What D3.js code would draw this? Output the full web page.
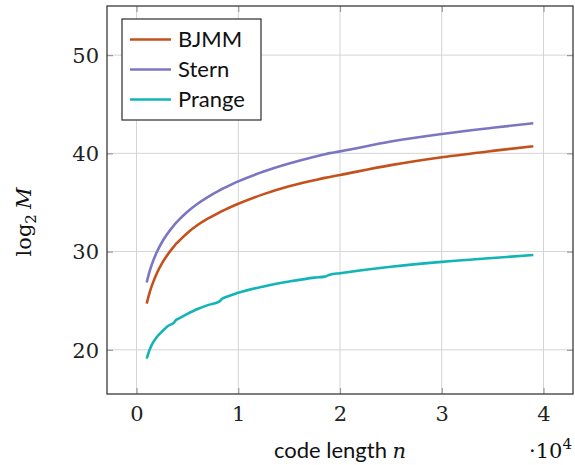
<!DOCTYPE html>
<html>
<head>
<meta charset="utf-8">
<script src="https://cdn.jsdelivr.net/npm/d3@7"></script>
<style>
  body { margin: 0; background: #fff; }
  svg { display: block; }
</style>
</head>
<body>
<svg id="chart" width="575" height="465"></svg>
<script>
// code length n
const codeLength = [1000, 1250, 1500, 2000, 2500, 3000, 3700, 3900, 4000, 5000, 6000, 7000,
  8200, 8400, 8500, 10000, 12500, 15000, 17500, 18500, 19000, 20000, 25000, 30000, 35000, 39000];

// log2 of the work factor
const bjmm = [24.7, 25.7, 26.5, 27.8, 28.8, 29.6, 30.55, 30.8, 30.9, 31.9, 32.7, 33.35,
  34.01, 34.12, 34.17, 34.87, 35.85, 36.65, 37.27, 37.5, 37.6, 37.8, 38.8, 39.6, 40.25, 40.72];
const stern = [26.85, 27.85, 28.67, 29.95, 30.95, 31.76, 32.7, 32.94, 33.05, 34.05, 34.87, 35.55,
  36.26, 36.37, 36.42, 37.15, 38.15, 38.96, 39.65, 39.9, 40.02, 40.2, 41.2, 41.97, 42.6, 43.07];
const prange = [19.1, 19.9, 20.5, 21.3, 21.85, 22.35, 22.8, 23.05, 23.1, 23.65, 24.15, 24.55,
  24.95, 25.2, 25.25, 25.8, 26.45, 26.95, 27.35, 27.45, 27.65, 27.8, 28.45, 28.95, 29.35, 29.65];

const seriesNames = ['BJMM', 'Stern', 'Prange'];
const seriesColors = ['#c4501c', '#7b76c2', '#12b4b6'];
const xTicks = [0, 10000, 20000, 30000, 40000];
const yTicks = [20, 30, 40, 50];

const svg = d3.select('#chart');
const box = { left: 107, right: 573, top: 6, bottom: 394 };

const x = d3.scaleLinear().domain([-2900, 42900]).range([box.left, box.right]);
const y = d3.scaleLinear().domain([15.5, 55]).range([box.bottom, box.top]);

const serif = 'DejaVu Serif, serif';
const sans = 'Lato, sans-serif';

// grid
const grid = svg.append('g').attr('class', 'grid');
grid.selectAll('.gx').data(xTicks).enter().append('line')
  .attr('x1', d => x(d)).attr('x2', d => x(d))
  .attr('y1', box.top).attr('y2', box.bottom)
  .attr('stroke', '#d4d4d4').attr('stroke-width', 1);
grid.selectAll('.gy').data(yTicks).enter().append('line')
  .attr('y1', d => y(d)).attr('y2', d => y(d))
  .attr('x1', box.left).attr('x2', box.right)
  .attr('stroke', '#d4d4d4').attr('stroke-width', 1);

// axes: ticks drawn inward on all four sides
const tickColor = '#9a9a9a';
const bottomAxis = svg.append('g')
  .attr('transform', `translate(0,${box.bottom})`)
  .call(d3.axisBottom(x).tickValues(xTicks).tickSize(-6).tickFormat(d => d / 10000));
const topAxis = svg.append('g')
  .attr('transform', `translate(0,${box.top})`)
  .call(d3.axisTop(x).tickValues(xTicks).tickSize(-6).tickFormat(''));
const leftAxis = svg.append('g')
  .attr('transform', `translate(${box.left},0)`)
  .call(d3.axisLeft(y).tickValues(yTicks).tickSize(-6));
const rightAxis = svg.append('g')
  .attr('transform', `translate(${box.right},0)`)
  .call(d3.axisRight(y).tickValues(yTicks).tickSize(-6).tickFormat(''));

[bottomAxis, topAxis, leftAxis, rightAxis].forEach(a => {
  a.select('.domain').remove();
  a.selectAll('.tick line').attr('stroke', tickColor).attr('stroke-width', 1.2);
});
bottomAxis.selectAll('.tick text')
  .attr('font-family', serif).attr('font-size', 21).attr('fill', '#222')
  .attr('dy', null).attr('y', 27);
leftAxis.selectAll('.tick text')
  .attr('font-family', serif).attr('font-size', 21).attr('fill', '#222')
  .attr('x', -8).attr('dy', '0.35em');

// series
const line = d3.line()
  .curve(d3.curveMonotoneX)
  .x((d, i) => x(codeLength[i]))
  .y(d => y(d));

[bjmm, stern, prange].forEach((values, k) => {
  svg.append('path')
    .datum(values)
    .attr('fill', 'none')
    .attr('stroke', seriesColors[k])
    .attr('stroke-width', 2.6)
    .attr('stroke-linejoin', 'round')
    .attr('d', line);
});

// frame
svg.append('rect')
  .attr('x', box.left).attr('y', box.top)
  .attr('width', box.right - box.left).attr('height', box.bottom - box.top)
  .attr('fill', 'none').attr('stroke', '#3a3a3a').attr('stroke-width', 1.3);

// legend
const legend = svg.append('g').attr('transform', 'translate(122,19)');
legend.append('rect')
  .attr('width', 139).attr('height', 101)
  .attr('fill', '#fff').attr('stroke', '#2a2a2a').attr('stroke-width', 1.2);
const item = legend.selectAll('.item').data(seriesNames).enter().append('g')
  .attr('transform', (d, i) => `translate(0,${20.5 + i * 30})`);
item.append('line')
  .attr('x1', 8).attr('x2', 49)
  .attr('stroke', (d, i) => seriesColors[i]).attr('stroke-width', 2.6);
item.append('text')
  .attr('x', 56).attr('dy', '0.36em')
  .attr('font-family', sans).attr('font-size', 22).attr('fill', '#111')
  .text(d => d);

// axis labels
const xl = svg.append('text')
  .attr('x', 340).attr('y', 458)
  .attr('text-anchor', 'middle').attr('fill', '#111');
xl.append('tspan').attr('font-family', sans).attr('font-size', 22).text('code length ');
xl.append('tspan').attr('font-family', serif).attr('font-style', 'italic').attr('font-size', 21).text('n');

const mult = svg.append('text')
  .attr('x', 572).attr('y', 458)
  .attr('text-anchor', 'end').attr('font-family', serif).attr('font-size', 21).attr('fill', '#111');
mult.append('tspan').text('·10');
mult.append('tspan').attr('font-size', 15).attr('dy', -9).text('4');

const yl = svg.append('text')
  .attr('transform', 'translate(31,222) rotate(-90)')
  .attr('text-anchor', 'middle').attr('font-family', serif).attr('font-size', 21).attr('fill', '#111');
yl.append('tspan').text('log');
yl.append('tspan').attr('font-size', 15).attr('dy', 5).text('2');
yl.append('tspan').attr('dy', -5).attr('dx', 5).attr('font-style', 'italic').text('M');
</script>
</body>
</html>
